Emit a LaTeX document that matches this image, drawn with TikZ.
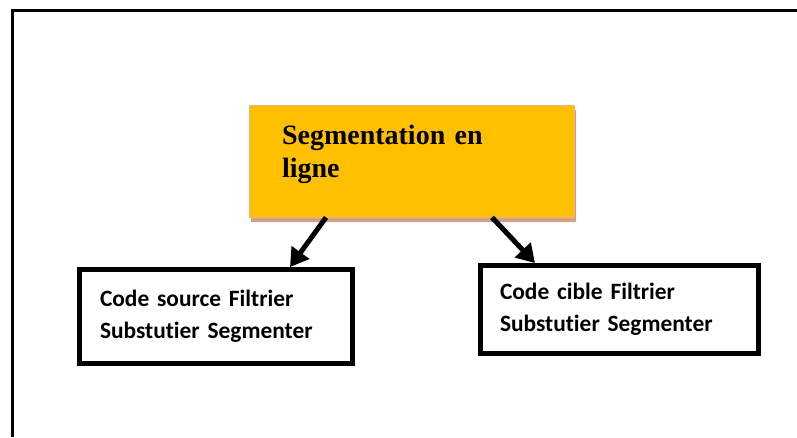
\documentclass[tikz,border=0pt]{standalone}
\usepackage{fontspec}
\newfontfamily\headfont{Liberation Serif}
\newfontfamily\bodyfont[Ligatures=NoCommon]{Carlito}
\usetikzlibrary{arrows.meta}
\definecolor{segfill}{HTML}{FFC000}
\definecolor{segline}{HTML}{F4B183}
\definecolor{segshadow}{HTML}{D6A07E}

\begin{document}
\begin{tikzpicture}[x=1pt,y=-1pt,
  headbox/.style={rectangle, fill=segfill, draw=segline, line width=0.8pt,
    preaction={fill=segshadow, transform canvas={xshift=1.5pt,yshift=-5pt}},
    align=left, inner xsep=33pt, inner ysep=0pt,
    font=\headfont\bfseries\fontsize{28}{33}\selectfont},
  stepbox/.style={rectangle, draw=black, line width=5pt, fill=white,
    align=left, inner ysep=0pt,
    font=\bodyfont\bfseries\fontsize{23.4}{31.5}\selectfont},
  flow/.style={line width=5pt, -{Triangle[length=18pt,width=21pt]}}]

% page area
\useasboundingbox (0,0) rectangle (797,437);

% open frame: left and top sides only
\draw[line width=3pt] (12,437) -- (12,10.5) -- (797,10.5);

% main step
\node[headbox, text width=259pt, minimum width=325pt, minimum height=112pt]
  (seg) at (411.5,161) {Segmentation en\\ligne\rule[-19pt]{0pt}{0pt}};

% source and target steps
\node[stepbox, inner xsep=20.5pt, text width=232pt,
      minimum width=273pt, minimum height=94pt]
  (src) at (216,316.5) {Code source Filtrier\\Substutier Segmenter};
\node[stepbox, inner xsep=19.5pt, text width=239pt,
      minimum width=278pt, minimum height=87.5pt]
  (tgt) at (619.5,309.25) {Code cible Filtrier\\Substutier Segmenter};

% connectors
\draw[flow] ([xshift=-85.5pt]seg.south) -- ([xshift=74pt]src.north);
\draw[flow] ([xshift=80.5pt]seg.south) -- ([xshift=-84.5pt]tgt.north);
\end{tikzpicture}
\end{document}
